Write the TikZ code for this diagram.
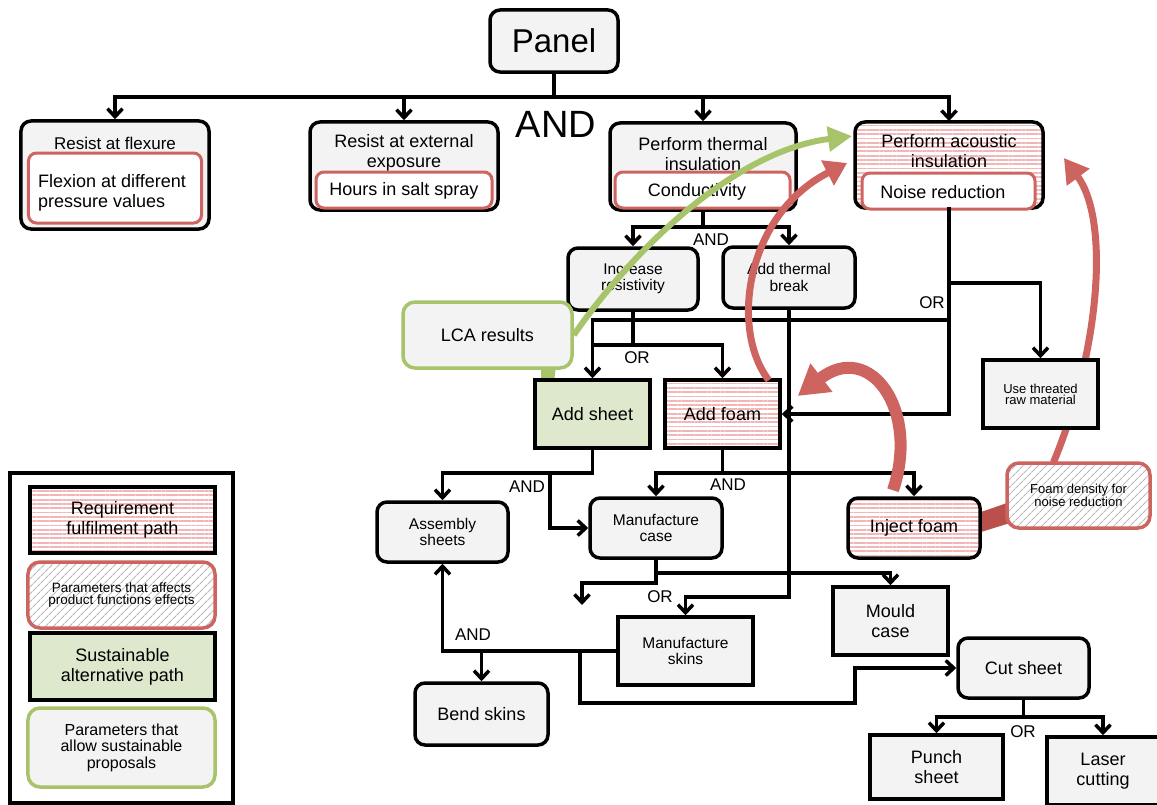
\documentclass[tikz,border=0pt]{standalone}
\usepackage{fontspec}
\setmainfont{Liberation Sans}
\usetikzlibrary{arrows.meta,patterns.meta,calc}
\definecolor{boxgray}{HTML}{F3F3F3}
\definecolor{cred}{HTML}{CD645F}
\definecolor{cgreen}{HTML}{A8C46A}
\definecolor{cgfill}{HTML}{DDE8CC}
\definecolor{cpink}{HTML}{F2B6B6}
\definecolor{ctail}{HTML}{B9504B}
\newcommand\fsz[2]{\fontsize{#1bp}{#2bp}\selectfont}
\tikzset{
  rbox/.style={draw=black, line width=3.5bp, rounded corners=10bp, fill=boxgray, inner sep=0pt, align=center},
  sbox/.style={draw=black, line width=3.5bp, fill=boxgray, inner sep=0pt, align=center},
  innerbox/.style={draw=cred, line width=3bp, rounded corners=8bp, fill=white, inner sep=0pt},
  pinkhatch/.style={preaction={fill=white}, pattern={Lines[angle=0,distance=4.3bp,line width=1.8bp]}, pattern color=cpink},
  grayhatch/.style={preaction={fill=white}, pattern={Lines[angle=45,distance=6bp,line width=1.3bp]}, pattern color=gray!55},
  conn/.style={line width=3.5bp, draw=black, line cap=rect},
  arr/.style={line width=3.5bp, draw=black, -{Straight Barb[length=8bp,width=15bp]}},
  lbl/.style={inner sep=0pt, font=\fsz{17}{19}},
  t18/.style={inner sep=0pt, align=center, font=\fsz{18}{20}},
  t15/.style={font=\fsz{15.5}{16.5}},
  t13/.style={font=\fsz{13}{11}},
  w18/.style={font=\fsz{18}{20}},
}
\begin{document}
\begin{tikzpicture}[x=1bp,y=-1bp]
\clip (0,0) rectangle (1157,805);
\fill[white] (0,0) rectangle (1157,805);

% callout tails
\fill[cgreen] (541,366) -- (556,366) -- (554,382) -- (541,382) -- cycle;
\fill[ctail] (1010,502) -- (1010,523) -- (981,532) -- (981,512) -- cycle;

% top level
\node[rbox, minimum width=128bp, minimum height=62bp, font=\fsz{33}{36}] (panel) at (554,41) {Panel};

\node[rbox, minimum width=188bp, minimum height=108bp] (flex) at (115,175) {};
\node[inner sep=0pt, font=\fsz{17}{19}] (flext) at (115,143) {Resist at flexure};
\node[innerbox, minimum width=173bp, minimum height=70bp] (flexin) at (115,188) {};
\node[inner sep=0pt, anchor=west, align=left, font=\fsz{18}{20}] (flexint) at (38,193) {Flexion at different\\pressure values};

\node[rbox, minimum width=188bp, minimum height=88bp] (ext) at (404,166) {};
\node[t18] (extt) at (404,153) {Resist at external\\exposure};
\node[innerbox, minimum width=176bp, minimum height=36bp] (extin) at (404,190) {};
\node[t18] (extint) at (404,191) {Hours in salt spray};

\node[rbox, minimum width=186bp, minimum height=87bp] (therm) at (703,166.5) {};
\node[t18] (thermt) at (703,154) {Perform thermal\\insulation};
\node[innerbox, minimum width=175bp, minimum height=36bp] (thermin) at (702.5,190) {};
\node[t18] (thermint) at (697,192) {Conductivity};

\node[rbox, pinkhatch, minimum width=188bp, minimum height=86bp] (acou) at (949,165) {};
\node[t18] (acout) at (949,151.5) {Perform acoustic\\insulation};
\node[innerbox, minimum width=173bp, minimum height=36bp] (acouin) at (948.5,191) {};
\node[t18] (acouint) at (943,192) {Noise reduction};

% second level
\node[rbox, t15, minimum width=130bp, minimum height=62bp] (incres) at (633,279) {Increase\\resistivity};
\node[rbox, t15, minimum width=132bp, minimum height=61bp] (addtb) at (789,277.5) {Add thermal\\break};
\node[draw=cgreen, line width=3.5bp, rounded corners=12bp, fill=boxgray, inner sep=0pt, w18, minimum width=169bp, minimum height=66bp] (lca) at (487.5,335) {LCA results};
\node[sbox, fill=cgfill, w18, minimum width=115bp, minimum height=68bp] (addsheet) at (592.5,414) {Add sheet};
\node[sbox, pinkhatch, w18, minimum width=115bp, minimum height=68bp] (addfoam) at (722.5,414) {Add foam};

% third level
\node[rbox, t15, minimum width=131bp, minimum height=60bp] (assem) at (442.5,532) {Assembly\\sheets};
\node[rbox, t15, minimum width=132bp, minimum height=60bp] (mcase) at (656,528) {Manufacture\\case};
\node[rbox, pinkhatch, w18, minimum width=132bp, minimum height=60bp] (inject) at (914,528) {Inject foam};
\node[draw=cred, line width=3.5bp, rounded corners=12bp, grayhatch, inner sep=0pt, align=center, t13, minimum width=143bp, minimum height=65bp] (foamd) at (1078.5,495.5) {Foam density for\\noise reduction};

% red arrow that runs behind the "Use threated" box
\draw[cred, line width=7bp, -{Triangle[length=24bp,width=27bp]}]
  ($(foamd.north)+(-25,0)$) .. controls (1100,350) and (1110,220) .. ($(acou.east)+(20,-7)$);
\node[sbox, t13, minimum width=115bp, minimum height=68bp] (usetr) at (1040.5,394) {Use threated\\raw material};

\node[sbox, t15, minimum width=135bp, minimum height=68bp] (mskins) at (685.5,651) {Manufacture\\skins};
\node[sbox, w18, minimum width=115bp, minimum height=68bp] (mould) at (890.5,621) {Mould\\case};
\node[rbox, w18, minimum width=133bp, minimum height=62bp] (bend) at (481.5,714) {Bend skins};
\node[rbox, w18, minimum width=131bp, minimum height=60bp] (cut) at (1023.5,668) {Cut sheet};
\node[sbox, w18, minimum width=133bp, minimum height=64bp] (punch) at (936.5,767) {Punch\\sheet};
\node[sbox, w18, minimum width=112bp, minimum height=68bp] (laser) at (1103,771) {Laser\\cutting};

% legend
\node[draw=black, line width=4.5bp, fill=white, inner sep=0pt, minimum width=223bp, minimum height=330bp] (legend) at (121.5,638) {};
\node[sbox, pinkhatch, w18, minimum width=185bp, minimum height=66bp] (leg1) at (122.5,520) {Requirement\\fulfilment path};
\node[draw=cred, line width=3.5bp, rounded corners=12bp, grayhatch, inner sep=0pt, align=center, font=\fsz{13.5}{11.5}, minimum width=187bp, minimum height=66bp] (leg2) at (121.5,595) {Parameters that affects\\product functions effects};
\node[sbox, fill=cgfill, w18, minimum width=185bp, minimum height=67bp] (leg3) at (122.5,666.5) {Sustainable\\alternative path};
\node[draw=cgreen, line width=3.5bp, rounded corners=12bp, fill=boxgray, inner sep=0pt, align=center, font=\fsz{16}{16.5}, minimum width=187bp, minimum height=79bp] (leg4) at (121.5,747.5) {Parameters that\\allow sustainable\\proposals};

% connectors
\coordinate (j0) at (555,97);
\draw[conn] (panel.south) -- (panel.south |- j0);
\draw[conn] (flex.north |- j0) -- (acou.north |- j0);
\foreach \n in {flex,ext,therm,acou} \draw[arr] (\n.north |- j0) -- (\n.north);

\coordinate (j1) at (0,227);
\draw[conn] (therm.south) -- (therm.south |- j1);
\draw[conn] (incres.north |- j1) -- (addtb.north |- j1);
\draw[arr] (incres.north |- j1) -- (incres.north);
\draw[arr] (addtb.north |- j1) -- (addtb.north);

\coordinate (j2) at (0,345);
\coordinate (j3) at (0,320);
\draw[conn] (incres.south) -- (incres.south |- j2);
\draw[conn] (addsheet.north |- j2) -- (addfoam.north |- j2);
\draw[conn] (addsheet.north |- j3) -- (acou.south |- j3);
\draw[arr] (addsheet.north |- j3) -- (addsheet.north);
\draw[arr] (addfoam.north |- j2) -- (addfoam.north);

\coordinate (j4) at (0,283);
\draw[conn] (acou.south) -- (acou.south |- addfoam.east);
\draw[arr] (acou.south |- addfoam.east) -- (addfoam.east);
\draw[conn] (acou.south |- j4) -- (usetr.north |- j4);
\draw[arr] (usetr.north |- j4) -- (usetr.north);

\coordinate (j5) at (0,597);
\draw[conn] (addtb.south) -- (addtb.south |- j5) -- (mskins.north |- j5);
\draw[arr] (mskins.north |- j5) -- (mskins.north);

\coordinate (j6) at (0,473);
\coordinate (j7) at (550,0);
\draw[conn] (addsheet.south) -- (addsheet.south |- j6) -- (assem.north |- j6);
\draw[arr] (assem.north |- j6) -- (assem.north);
\draw[arr] (j7 |- j6) -- (j7 |- mcase.west) -- (mcase.west);

\draw[conn] (addfoam.south) -- (addfoam.south |- j6);
\draw[conn] (mcase.north |- j6) -- (inject.north |- j6);
\draw[arr] (mcase.north |- j6) -- (mcase.north);
\draw[arr] (inject.north |- j6) -- (inject.north);

\coordinate (j8) at (0,573);
\coordinate (j9) at (0,583);
\coordinate (dang) at (582,605);
\draw[conn] (mcase.south) -- (mcase.south |- j9) -- (dang |- j9);
\draw[arr] (dang |- j9) -- (dang);
\draw[conn] (mcase.south |- j8) -- (mould.north |- j8);
\draw[arr] (mould.north |- j8) -- (mould.north);

\coordinate (j10) at (580,703);
\coordinate (j11) at (855,668);
\draw[conn] (mskins.west) -- (assem.south |- mskins.west);
\draw[arr] (assem.south |- mskins.west) -- (assem.south);
\draw[arr] (bend.north |- mskins.west) -- (bend.north);
\draw[arr] (j10 |- mskins.west) -- (j10) -- (j11 |- j10) -- (j11) -- (cut.west);

\coordinate (j12) at (0,717);
\draw[conn] (cut.south) -- (cut.south |- j12);
\draw[conn] (punch.north |- j12) -- (laser.north |- j12);
\draw[arr] (punch.north |- j12) -- (punch.north);
\draw[arr] (laser.north |- j12) -- (laser.north);

% AND / OR labels
\node[inner sep=0pt, font=\fsz{38}{40}] (andtop) at (556,124) {AND};
\node[lbl] (and1) at (711,240) {AND};
\node[lbl] (or1) at (637,358) {OR};
\node[lbl] (or2) at (932,303) {OR};
\node[lbl] (and2) at (527,487) {AND};
\node[lbl] (and3) at (728,485) {AND};
\node[lbl] (or3) at (660,597) {OR};
\node[lbl] (and4) at (473,635) {AND};
\node[lbl] (or4) at (1023,732) {OR};

% thick curved arrows on top
\draw[cgreen, line width=6bp, -{Triangle[length=24bp,width=24bp]}]
  (lca.east) .. controls (640,240) and (740,150) .. ($(acou.north west)+(-2,15)$);
\draw[cred, line width=7bp, -{Triangle[length=22bp,width=27bp]}]
  ($(addfoam.north east)+(-13,2)$) .. controls (730,330) and (745,215) .. ($(acou.west)+(-7,-2)$);
\draw[cred, line width=12bp, -{Triangle[length=30bp,width=34bp]}]
  ($(inject.north)+(-21,-6)$) .. controls (920,410) and (870,340) .. ($(addfoam.east)+(16,-18)$);
\end{tikzpicture}
\end{document}
